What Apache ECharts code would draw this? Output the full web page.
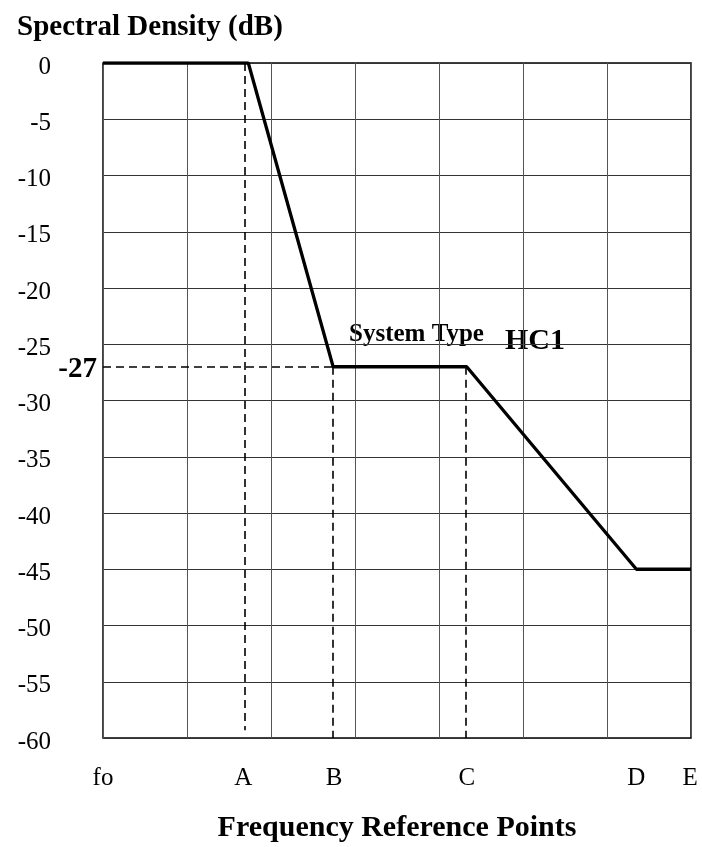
<!DOCTYPE html>
<html><head><meta charset="utf-8">
<script src="https://cdn.jsdelivr.net/npm/echarts@6/dist/echarts.min.js"></script>
<style>html,body{margin:0;padding:0;background:#fff}#c{width:702px;height:847px}</style>
</head><body><div id="c"></div>
<script>
// Frequency reference points (position in grid divisions) and labels
const freqNames = ['fo', 'A', 'B', 'C', 'D', 'E'];
const freqLabelPos = [0, 1.67, 2.75, 4.33, 6.35, 6.99];
// Spectral density curve
const curveX = [0, 1.73, 2.74, 4.33, 6.35, 7];
const curveY = [0, 0, -27, -27, -45, -45];
// Dashed reference drops: [x, yTop, yBottom]
const dropX = [1.69, 2.74, 4.32, 6.33];
const dropTop = [0, -27, -27, -45];
const dropBottom = [-59.3, -60, -60, -60.2];
const refLevel = -27;
const yTicks = [0, -5, -10, -15, -20, -25, -30, -35, -40, -45, -50, -55, -60];

const serif = '"Liberation Serif","DejaVu Serif",serif';
const chart = echarts.init(document.getElementById('c'));
const markData = dropX.map((x, i) => [{coord: [x, dropTop[i]]}, {coord: [x, dropBottom[i]]}]);
markData.push([{coord: [0, refLevel]}, {coord: [curveX[2], refLevel]}]);

chart.setOption({
  animation: false,
  title: {text: 'Spectral Density (dB)', left: 12, top: 8,
    textStyle: {fontFamily: serif, fontWeight: 'bold', fontSize: 29, color: '#000'}},
  grid: {left: 103, right: 11, top: 63, bottom: 109, show: true, borderColor: '#000', borderWidth: 1.5,
    outerBoundsMode: 'none', containLabel: false},
  xAxis: [{
    type: 'value', min: 0, max: 7, interval: 1,
    axisLine: {show: false}, axisTick: {show: false}, axisLabel: {show: false},
    splitLine: {show: true, lineStyle: {color: '#555', width: 1}},
    name: 'Frequency Reference Points', nameLocation: 'middle', nameGap: 75,
    nameTextStyle: {fontFamily: serif, fontWeight: 'bold', fontSize: 30, color: '#000'}
  }, {
    type: 'value', min: 0, max: 7, position: 'bottom',
    axisLine: {show: false}, axisTick: {show: false}, splitLine: {show: false},
    axisLabel: {customValues: freqLabelPos, margin: 28,
      formatter: v => freqNames[freqLabelPos.indexOf(v)] || '',
      fontFamily: serif, fontSize: 25, color: '#000'}
  }],
  yAxis: [{
    type: 'value', min: -60, max: 0, interval: 5,
    axisLine: {show: false}, axisTick: {show: false},
    axisLabel: {customValues: yTicks, margin: 52, verticalAlign: 'top', lineHeight: 8,
      fontFamily: serif, fontSize: 25, color: '#000'},
    splitLine: {show: true, lineStyle: {color: '#333', width: 1}}
  }, {
    type: 'value', min: -60, max: 0, position: 'left',
    axisLine: {show: false}, axisTick: {show: false}, splitLine: {show: false},
    axisLabel: {customValues: [refLevel], margin: 6, verticalAlign: 'top', lineHeight: 6,
      fontFamily: serif, fontWeight: 'bold', fontSize: 29, color: '#000'}
  }],
  series: [{
    type: 'line', xAxisIndex: 0, yAxisIndex: 0,
    data: curveX.map((x, i) => [x, curveY[i]]),
    symbol: 'none', lineStyle: {color: '#000', width: 3.3},
    markLine: {silent: true, symbol: 'none', label: {show: false},
      lineStyle: {color: '#000', width: 1.6, type: [8, 5]},
      data: markData}
  }],
  graphic: [
    {type: 'text', left: 349, top: 322, style: {text: 'System Type', font: 'bold 25px ' + serif, fill: '#000'}},
    {type: 'text', left: 505, top: 326, style: {text: 'HC1', font: 'bold 30px ' + serif, fill: '#000'}}
  ]
});
</script></body></html>
